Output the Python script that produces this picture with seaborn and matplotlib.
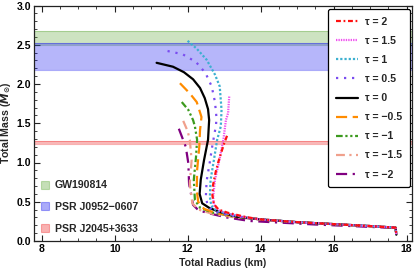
import numpy as np
import matplotlib
matplotlib.use("Agg")
import matplotlib.pyplot as plt
import seaborn as sns
from matplotlib.patches import Patch
from matplotlib.ticker import MultipleLocator

sns.set_theme(style="white")
plt.rcParams['font.family'] = ['Liberation Sans', 'DejaVu Sans']
plt.rcParams['font.weight'] = 'bold'

# ---------------- data ----------------
tail_R = [14.0, 15.0, 16.0, 17.0, 17.7, 17.72]
tail_M = [0.275, 0.24, 0.215, 0.19, 0.17, 0.08]

R_t2 = [13.08, 13.0, 12.93, 12.85, 12.77, 12.70, 12.68, 12.72, 12.85, 13.1, 13.6]
M_t2 = [1.34, 1.24, 1.14, 1.02, 0.88, 0.72, 0.58, 0.47, 0.40, 0.36, 0.305]

R_t15 = [13.14, 13.11, 13.05, 12.98, 12.87, 12.75, 12.70, 12.72, 12.85, 13.1, 13.6]
M_t15 = [1.84, 1.63, 1.54, 1.29, 1.03, 0.78, 0.56, 0.46, 0.39, 0.35, 0.30]

R_t1 = [12.0, 12.25, 12.52, 12.75, 12.88, 12.93, 12.91, 12.81, 12.72, 12.63, 12.61, 12.65, 12.78, 13.05, 13.6]
M_t1 = [2.55, 2.45, 2.31, 2.12, 1.97, 1.67, 1.46, 1.29, 1.03, 0.78, 0.56, 0.45, 0.39, 0.35, 0.30]

R_t05 = [11.45, 11.86, 12.23, 12.49, 12.66, 12.75, 12.79, 12.78, 12.68, 12.61, 12.52, 12.50, 12.55, 12.70, 13.0, 13.6]
M_t05 = [2.42, 2.38, 2.28, 2.14, 1.97, 1.77, 1.58, 1.48, 1.22, 1.01, 0.76, 0.56, 0.45, 0.38, 0.34, 0.295]

R_t0 = [11.15, 11.6, 11.9, 12.15, 12.34, 12.47, 12.56, 12.59, 12.56, 12.45, 12.36, 12.33, 12.40, 12.60, 12.88, 13.34]
M_t0 = [2.27, 2.22, 2.15, 2.06, 1.95, 1.82, 1.68, 1.54, 1.29, 1.03, 0.78, 0.60, 0.48, 0.42, 0.37, 0.31]

R_tm05 = [11.79, 12.06, 12.25, 12.38, 12.34, 12.32, 12.26, 12.25, 12.29, 12.45, 12.75, 13.3]
M_tm05 = [2.01, 1.88, 1.77, 1.58, 1.41, 1.20, 0.90, 0.65, 0.50, 0.41, 0.36, 0.31]

R_tm1 = [11.84, 12.02, 12.15, 12.20, 12.26, 12.23, 12.17, 12.20, 12.35, 12.70, 13.3]
M_tm1 = [1.77, 1.67, 1.54, 1.46, 1.29, 1.07, 0.78, 0.52, 0.42, 0.36, 0.31]

R_tm15 = [11.88, 12.00, 12.06, 12.11, 12.06, 12.13, 12.30, 12.65, 13.3]
M_tm15 = [1.53, 1.40, 1.29, 1.03, 0.73, 0.48, 0.40, 0.35, 0.30]

R_tm2 = [11.76, 11.95, 12.02, 12.04, 12.15, 12.30, 12.61, 13.07, 13.7, 14.5, 15.5, 16.5, 17.7, 17.72]
M_tm2 = [1.43, 1.20, 0.99, 0.73, 0.46, 0.39, 0.35, 0.30, 0.255, 0.235, 0.21, 0.19, 0.165, 0.08]

labels = ["τ = 2", "τ = 1.5", "τ = 1", "τ = 0.5", "τ = 0",
          "τ = −0.5", "τ = −1", "τ = −1.5", "τ = −2"]

band_names = ["GW190814", "PSR J0952−0607", "PSR J2045+3633"]
band_lo = [2.50, 2.18, 1.23]
band_hi = [2.67, 2.52, 1.272]
band_colors = ["#5aa532", "#1010f0", "#ee2020"]

# ---------------- styles ----------------
colors = ["#ff1010", "#f050f0", "#3cb0d0", "#7a4cf0", "#000000",
          "#ff8c00", "#3c9a1e", "#f0a08c", "#800080"]
dash_list = [(2.2, 1.2, 0.8, 1.2), (0.6, 0.5), (1.0, 0.9), (1.0, 2.6), None,
             (5, 2.5), (3, 1.2, 1, 1.2, 1, 1.2), (4, 2, 1, 2), (5, 2.5, 1, 2.5)]

curves = [(R_t2, M_t2), (R_t15, M_t15), (R_t1, M_t1), (R_t05, M_t05), (R_t0, M_t0),
          (R_tm05, M_tm05), (R_tm1, M_tm1), (R_tm15, M_tm15), (R_tm2, M_tm2)]

fig = plt.figure(figsize=(4.15, 2.71), dpi=100)
ax = fig.add_axes([34/415, 1-241/271, (412-34)/415, (241-5.5)/271])

for lo, hi, c in zip(band_lo, band_hi, band_colors):
    ax.axhspan(lo, hi, color=c, alpha=0.3, lw=0, zorder=1)
    ax.axhline(lo, color=c, alpha=0.35, lw=0.8, zorder=1)
    ax.axhline(hi, color=c, alpha=0.35, lw=0.8, zorder=1)

line_handles = []
for i, ((R, M), lab, col, ds) in enumerate(zip(curves, labels, colors, dash_list)):
    if i == 8:
        Rf, Mf = list(R), list(M)
    else:
        Rf, Mf = list(R) + tail_R, list(M) + tail_M
    sns.lineplot(x=Rf, y=Mf, sort=False, estimator=None, color=col, lw=1.6,
                 ax=ax, zorder=3 + (9 - i) * 0.1)
    ln = ax.lines[-1]
    if ds is not None:
        ln.set_dashes(ds)
    line_handles.append(ln)

ax.set_xlim(7.79, 18.15)
ax.set_ylim(0, 3.0)
ax.xaxis.set_major_locator(MultipleLocator(2))
ax.xaxis.set_minor_locator(MultipleLocator(0.5))
ax.yaxis.set_major_locator(MultipleLocator(0.5))
ax.yaxis.set_minor_locator(MultipleLocator(0.1))
ax.yaxis.set_major_formatter(matplotlib.ticker.FormatStrFormatter('%.1f'))
ax.tick_params(which='both', direction='in', top=True, right=True,
               bottom=True, left=True, colors='#222222', labelcolor='black',
               labelsize=7.5, pad=2)
ax.tick_params(which='major', length=4, width=0.8)
ax.tick_params(which='minor', length=2, width=0.6)
for lab in ax.get_xticklabels() + ax.get_yticklabels():
    lab.set_fontweight('bold')
for s in ax.spines.values():
    s.set_color('#222222')
    s.set_linewidth(0.9)

ax.set_xlabel("Total Radius (km)", fontsize=7.6, fontweight='bold', labelpad=3)
ax.set_ylabel(r"Total Mass ($M_{\odot}$)", fontsize=7.6, fontweight='bold', labelpad=3)

leg1 = ax.legend(line_handles, labels, loc='upper right',
                 bbox_to_anchor=(0.995, 0.985), frameon=True, fancybox=True,
                 prop={'size': 7.6, 'weight': 'bold'}, handlelength=2.1,
                 handletextpad=0.7, labelspacing=0.86, borderpad=0.75,
                 borderaxespad=0)
leg1.get_frame().set_edgecolor('black')
leg1.get_frame().set_linewidth(0.9)
leg1.get_frame().set_alpha(1)
ax.add_artist(leg1)

patches = [Patch(facecolor=c, edgecolor=c, alpha=0.35, lw=0.8) for c in band_colors]
leg2 = ax.legend(patches, band_names, loc='lower left', bbox_to_anchor=(0.0, 0.0),
                 frameon=False, prop={'size': 7.6, 'weight': 'bold'},
                 handlelength=0.75, handleheight=0.75, handletextpad=0.5,
                 labelspacing=1.1, borderaxespad=0.3)

fig.savefig("out.png", dpi=100)
